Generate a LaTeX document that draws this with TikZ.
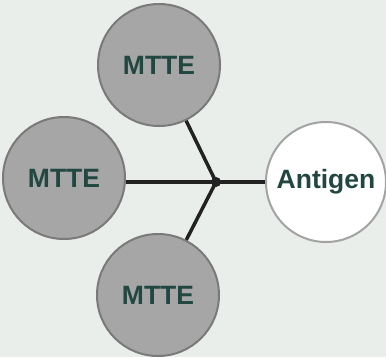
\documentclass[tikz,border=0pt]{standalone}
\usepackage{fontspec}
\setmainfont{Liberation Sans}
\definecolor{bgcol}{HTML}{E9EEEB}
\definecolor{cellfill}{HTML}{A6A6A6}
\definecolor{cellline}{HTML}{7A7A7A}
\definecolor{antline}{HTML}{A3A3A3}
\definecolor{labelcol}{HTML}{224740}
\definecolor{linkcol}{HTML}{222222}
\begin{document}
\begin{tikzpicture}[x=1pt,y=-1pt,
  cell/.style={circle,minimum size=122pt,inner sep=0pt,fill=cellfill,draw=cellline,line width=2pt,
    text=labelcol,font=\fontsize{26.5}{30}\selectfont\bfseries},
  antigen/.style={cell,fill=white,draw=antline,minimum size=120pt},
  link/.style={draw=linkcol,line width=3.5pt}]
  \fill[bgcol] (0,0) rectangle (386,357);
  \useasboundingbox (0,0) rectangle (386,357);
  \node[cell] (top) at (159,65) {MTTE};
  \node[cell] (left) at (64,178) {MTTE};
  \node[cell] (bottom) at (158,295) {MTTE};
  \node[antigen] (ag) at (326,182) {Antigen};
  \coordinate (hub) at (216,182);
  \draw[link] (hub) -- (top);
  \draw[link] (hub) -- (left.east |- hub);
  \draw[link] (hub) -- (bottom);
  \draw[link] (hub) -- (ag.west |- hub);
  \fill[linkcol] (hub) circle (5pt);
\end{tikzpicture}
\end{document}
